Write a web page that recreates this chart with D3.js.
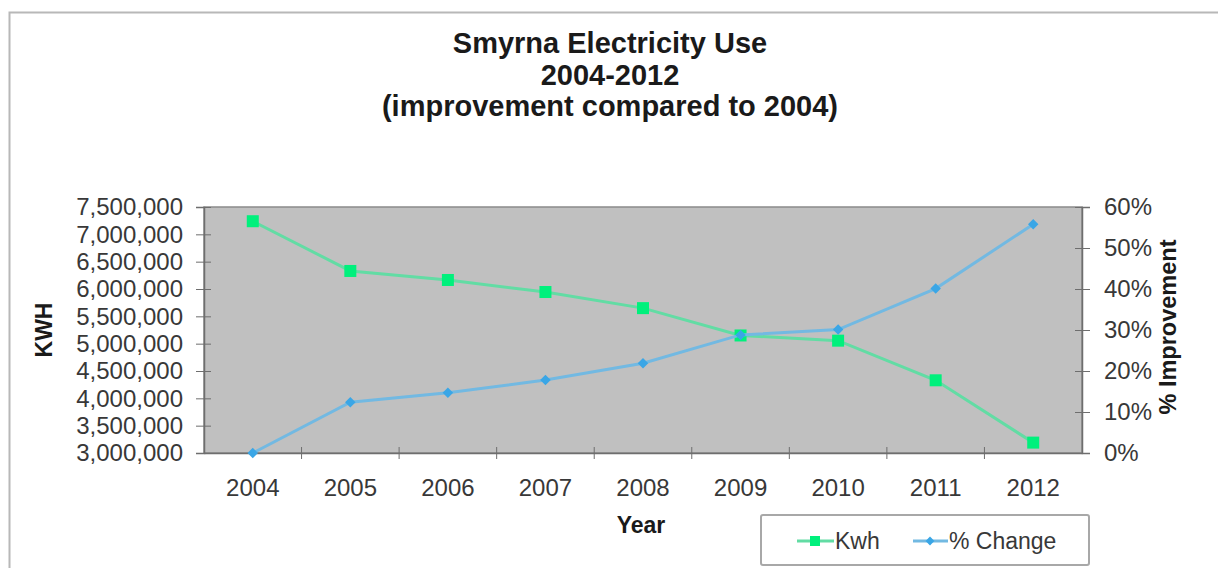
<!DOCTYPE html>
<html>
<head>
<meta charset="utf-8">
<script src="https://cdn.jsdelivr.net/npm/d3@7"></script>
<style>
  body { margin: 0; background: #fff; }
  svg { display: block; font-family: Arial, "Liberation Sans", sans-serif; }
</style>
</head>
<body>
<div id="chart"></div>
<script>
// data
var years = ["2004", "2005", "2006", "2007", "2008", "2009", "2010", "2011", "2012"];
var kwh = [7240000, 6330000, 6165000, 5945000, 5650000, 5150000, 5055000, 4330000, 3190000];
var pctChange = [0, 0.124, 0.147, 0.178, 0.219, 0.288, 0.301, 0.401, 0.558];
var kwhTicks = [3000000, 3500000, 4000000, 4500000, 5000000, 5500000, 6000000, 6500000, 7000000, 7500000];
var pctTicks = [0, 0.1, 0.2, 0.3, 0.4, 0.5, 0.6];
var titleLines = ["Smyrna Electricity Use", "2004-2012", "(improvement compared to 2004)"];

var W = 1218, H = 568;
var plot = { left: 204, right: 1082, top: 207, bottom: 453 };

var kwhColor = "#62dca4", kwhMark = "#00f07c";
var pctColor = "#72b9e2", pctMark = "#3aa6e6";
var tickColor = "#383838";

var svg = d3.select("#chart").append("svg")
    .attr("width", W)
    .attr("height", H);

// chart frame
svg.append("rect")
    .attr("x", 9.5).attr("y", 12.5)
    .attr("width", W + 20).attr("height", H + 20)
    .attr("fill", "#fff")
    .attr("stroke", "#b8b8b8")
    .attr("stroke-width", 2);

// title
svg.append("g").selectAll("text")
    .data(titleLines)
    .join("text")
    .attr("x", 610)
    .attr("y", function(d, i) { return 53 + i * 31.5; })
    .attr("text-anchor", "middle")
    .attr("font-size", 29)
    .attr("font-weight", "bold")
    .attr("fill", "#1a1a1a")
    .text(function(d) { return d; });

var x = d3.scaleBand()
    .domain(years)
    .range([plot.left, plot.right]);

var yL = d3.scaleLinear()
    .domain([3000000, 7500000])
    .range([plot.bottom, plot.top]);

var yR = d3.scaleLinear()
    .domain([0, 0.6])
    .range([plot.bottom, plot.top]);

// plot area
svg.append("rect")
    .attr("x", plot.left)
    .attr("y", plot.top)
    .attr("width", plot.right - plot.left)
    .attr("height", plot.bottom - plot.top)
    .attr("fill", "#c0c0c0")
    .attr("stroke", "#8a8a8a")
    .attr("stroke-width", 1.5);

// left axis
var gL = svg.append("g")
    .attr("transform", "translate(" + plot.left + ",0)")
    .call(d3.axisLeft(yL).tickValues(kwhTicks).tickFormat(d3.format(",")).tickSize(8).tickPadding(13));
gL.selectAll(".tick line").attr("x1", 7).attr("x2", -8);

// right axis
var gR = svg.append("g")
    .attr("transform", "translate(" + plot.right + ",0)")
    .call(d3.axisRight(yR).tickValues(pctTicks).tickFormat(d3.format(".0%")).tickSize(8).tickPadding(14));
gR.selectAll(".tick line").attr("x1", -7).attr("x2", 8);

// bottom axis: labels at band centres, ticks at band edges
var gB = svg.append("g")
    .attr("transform", "translate(0," + plot.bottom + ")")
    .call(d3.axisBottom(x).tickSize(0).tickPadding(26));
gB.selectAll(".tick line").remove();
gB.selectAll(".edge")
    .data(years.slice(1))
    .join("line")
    .attr("class", "edge")
    .attr("x1", function(d) { return x(d); })
    .attr("x2", function(d) { return x(d); })
    .attr("y1", -6)
    .attr("y2", 6)
    .attr("stroke", "#6e6e6e");

[gL, gR, gB].forEach(function(g) {
    g.select(".domain").attr("stroke", "#6e6e6e").attr("stroke-width", 1.5);
    g.selectAll(".tick line").attr("stroke", "#6e6e6e");
    g.selectAll("text")
        .attr("font-size", 24)
        .attr("font-family", "Arial, 'Liberation Sans', sans-serif")
        .attr("fill", tickColor);
});

// axis titles
svg.append("text")
    .attr("transform", "translate(52,330) rotate(-90)")
    .attr("text-anchor", "middle")
    .attr("font-size", 23)
    .attr("font-weight", "bold")
    .attr("fill", "#1a1a1a")
    .text("KWH");

svg.append("text")
    .attr("transform", "translate(1176,327) rotate(-90)")
    .attr("text-anchor", "middle")
    .attr("font-size", 23.5)
    .attr("font-weight", "bold")
    .attr("fill", "#1a1a1a")
    .text("% Improvement");

svg.append("text")
    .attr("x", 641)
    .attr("y", 533)
    .attr("text-anchor", "middle")
    .attr("font-size", 23)
    .attr("font-weight", "bold")
    .attr("fill", "#1a1a1a")
    .text("Year");

var cx = function(d, i) { return x(years[i]) + x.bandwidth() / 2; };

// Kwh series
svg.append("path")
    .datum(kwh)
    .attr("fill", "none")
    .attr("stroke", kwhColor)
    .attr("stroke-width", 3)
    .attr("d", d3.line().x(cx).y(function(d) { return yL(d); }));

svg.append("g").selectAll("rect")
    .data(kwh)
    .join("rect")
    .attr("x", function(d, i) { return cx(d, i) - 6; })
    .attr("y", function(d) { return yL(d) - 6; })
    .attr("width", 12)
    .attr("height", 12)
    .attr("fill", kwhMark);

// % change series
svg.append("path")
    .datum(pctChange)
    .attr("fill", "none")
    .attr("stroke", pctColor)
    .attr("stroke-width", 3)
    .attr("d", d3.line().x(cx).y(function(d) { return yR(d); }));

var diamond = d3.symbol().type(d3.symbolDiamond2).size(70);
svg.append("g").selectAll("path")
    .data(pctChange)
    .join("path")
    .attr("d", diamond)
    .attr("transform", function(d, i) { return "translate(" + cx(d, i) + "," + yR(d) + ")"; })
    .attr("fill", pctMark);

// legend
var leg = svg.append("g");
leg.append("rect")
    .attr("x", 761).attr("y", 515)
    .attr("width", 328).attr("height", 50)
    .attr("fill", "#fff")
    .attr("stroke", "#a8a8a8")
    .attr("stroke-width", 2)
    .attr("rx", 2);

var ly = 541;
leg.append("line").attr("x1", 797).attr("x2", 834).attr("y1", ly).attr("y2", ly)
    .attr("stroke", kwhColor).attr("stroke-width", 3);
leg.append("rect").attr("x", 810).attr("y", ly - 5).attr("width", 10).attr("height", 10)
    .attr("fill", kwhMark);
leg.append("text").attr("x", 835).attr("y", ly + 8)
    .attr("font-size", 23).attr("fill", tickColor).text("Kwh");

leg.append("line").attr("x1", 913).attr("x2", 948).attr("y1", ly).attr("y2", ly)
    .attr("stroke", pctColor).attr("stroke-width", 3);
leg.append("path").attr("d", d3.symbol().type(d3.symbolDiamond2).size(50))
    .attr("transform", "translate(930," + ly + ")")
    .attr("fill", pctMark);
leg.append("text").attr("x", 949).attr("y", ly + 8)
    .attr("font-size", 23).attr("fill", tickColor).text("% Change");
</script>
</body>
</html>
